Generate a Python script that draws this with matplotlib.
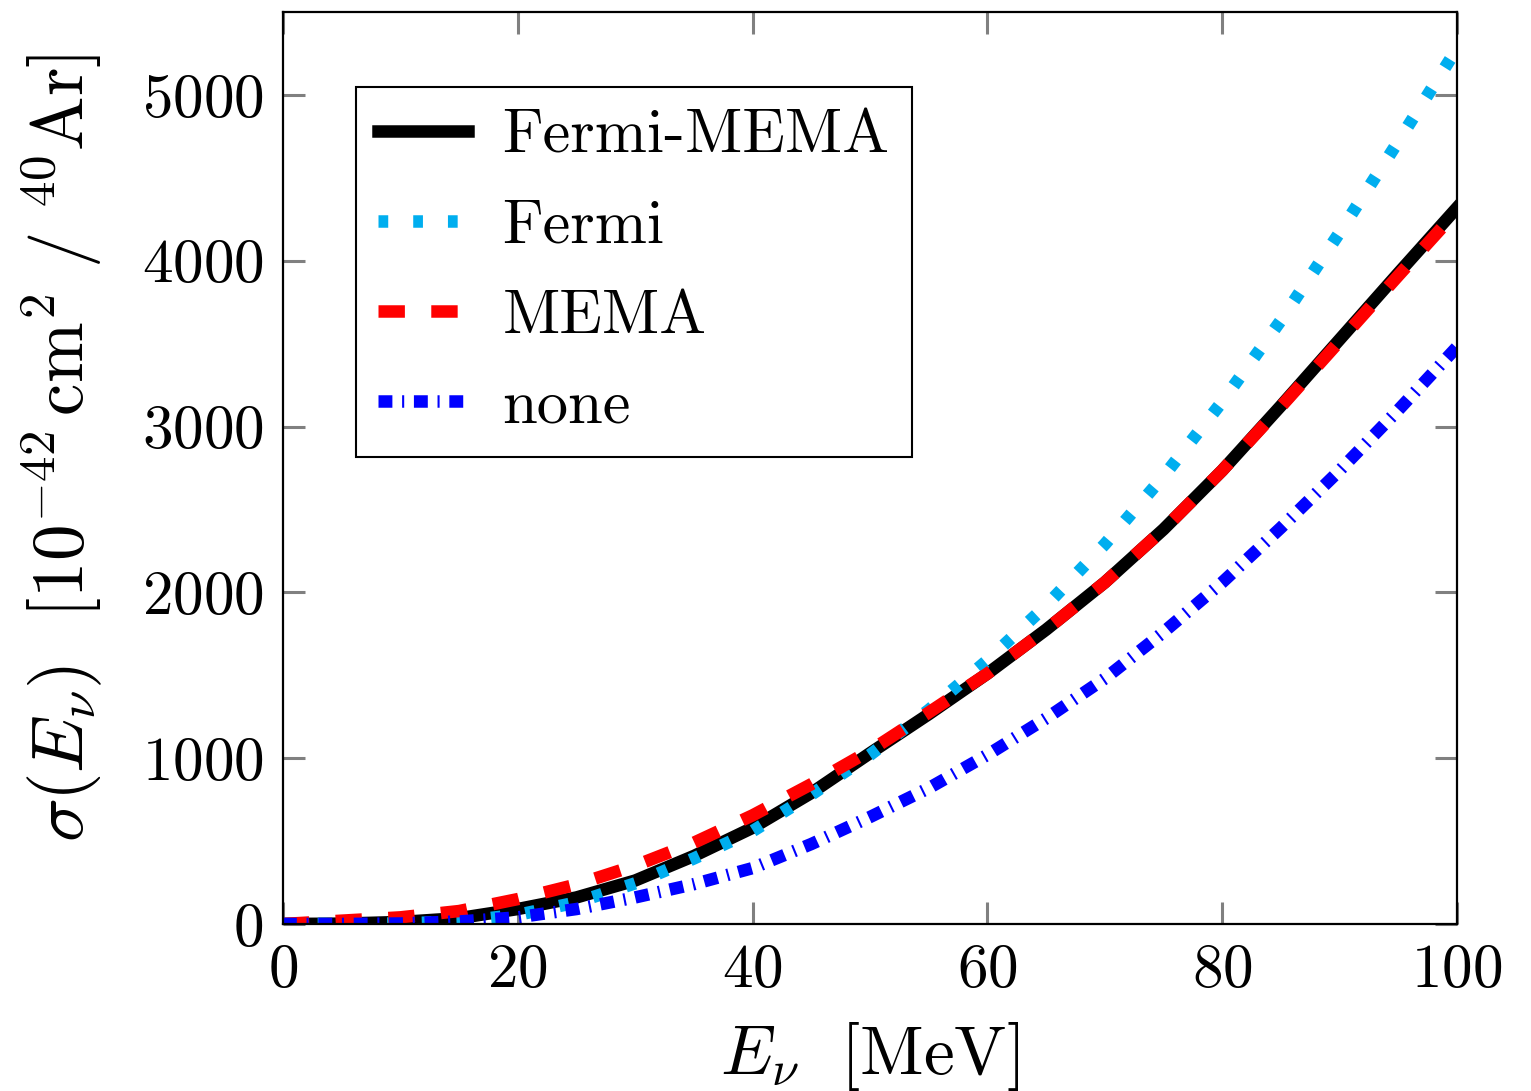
import numpy as np
import matplotlib
matplotlib.use("Agg")
from matplotlib import pyplot as plt

plt.rcParams["font.family"] = "serif"
plt.rcParams["font.serif"] = ["cmr10"]
plt.rcParams["mathtext.fontset"] = "cm"
plt.rcParams["axes.formatter.use_mathtext"] = True
plt.rcParams["lines.scale_dashes"] = False

# neutrino energy [MeV]
energy = [0, 5, 10, 15, 20, 25, 30, 35, 40, 45, 50,
          55, 60, 65, 70, 75, 80, 85, 90, 95, 100]
# cross sections [1e-42 cm^2 / 40Ar]
fermi_mema = [0, 2, 12, 35, 90, 160, 262, 410, 580, 790, 1030,
              1265, 1510, 1775, 2060, 2380, 2735, 3125, 3525, 3925, 4320]
fermi = [0, 0, 3, 15, 55, 130, 245, 395, 560, 780, 1020,
         1290, 1590, 1920, 2290, 2700, 3150, 3640, 4170, 4720, 5280]
mema = [0, 20, 40, 78, 150, 238, 352, 490, 655, 843, 1045,
        1275, 1510, 1775, 2060, 2380, 2735, 3120, 3515, 3910, 4300]
no_field = [0, 0, 3, 15, 40, 90, 160, 240, 337, 482, 645,
            819, 1020, 1240, 1480, 1760, 2060, 2390, 2735, 3100, 3480]

fig = plt.figure(figsize=(15.31, 10.91), dpi=100)
ax = fig.add_axes([0.1848, 0.1531, 0.7669, 0.8359])

ax.plot(energy, fermi_mema, color="black", lw=9, label="Fermi-MEMA")
ax.plot(energy, fermi, color="#00aeef", lw=9, dashes=(7, 18), label="Fermi")
ax.plot(energy, mema, color="red", lw=9, dashes=(19, 19), label="MEMA")
ax.plot(energy, no_field, color="blue", lw=9, dashes=(10, 7, 1.5, 7), label="none")

ax.set_xlim(0, 100)
ax.set_ylim(0, 5500)
ax.set_xticks(np.arange(0, 101, 20))
ax.set_yticks(np.arange(0, 5001, 1000))
ax.tick_params(direction="in", length=16, width=2.2, color="grey",
               top=True, right=True, labelsize=44, pad=14)
for s in ax.spines.values():
    s.set_linewidth(1.6)

ax.set_xlabel(r"$E_\nu\ \ [\mathrm{MeV}]$", fontsize=50, va="top")
ax.xaxis.set_label_coords(0.5, -0.105)
ax.set_ylabel(r"$\sigma(E_\nu)\ \ [10^{-42}\,\mathrm{cm}^2\ /\ {}^{40}\mathrm{Ar}]$", fontsize=52.5)
ax.yaxis.set_label_coords(-0.152, 0.522)

leg = ax.legend(loc="upper left", bbox_to_anchor=(0.062, 0.918), borderaxespad=0,
                fontsize=45, handlelength=1.45, handletextpad=0.55,
                labelspacing=0.55, borderpad=0.35, fancybox=False,
                edgecolor="black", framealpha=1)
leg.get_frame().set_linewidth(1.5)

plt.savefig("out.png", dpi=100)
